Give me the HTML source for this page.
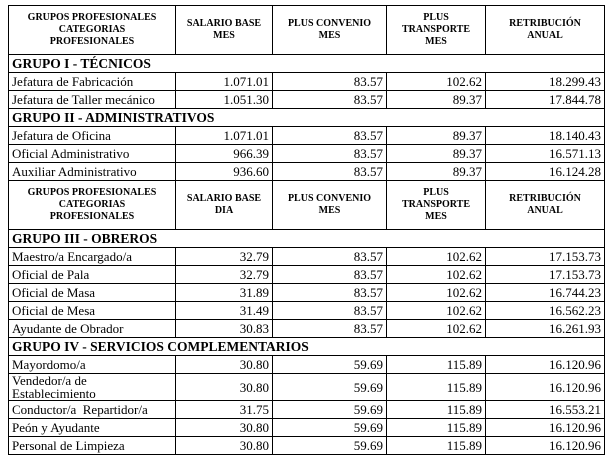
<!DOCTYPE html>
<html><head><meta charset="utf-8"><style>
html,body{margin:0;padding:0;background:#fff;width:613px;height:468px;overflow:hidden}
table{position:absolute;left:8px;top:5px;border-collapse:collapse;table-layout:fixed;font-family:"Liberation Serif",serif;font-size:13px;color:#000}
td{border:1px solid #000;padding:0 3px;height:17px;line-height:14px;overflow:hidden;white-space:nowrap}
td.n{text-align:right}
tr.h td{height:48px;font-size:10px;font-weight:bold;text-align:center;line-height:12px;white-space:normal}
tr.g td{font-weight:bold;font-size:13.5px}
tr.v td{height:26px;white-space:normal;line-height:13px}
</style></head><body>
<table>
<colgroup><col style="width:167px"><col style="width:97px"><col style="width:114px"><col style="width:99px"><col style="width:119px"></colgroup>
<tr class="h"><td>GRUPOS PROFESIONALES<br>CATEGORIAS<br>PROFESIONALES</td><td>SALARIO BASE<br>MES</td><td>PLUS CONVENIO<br>MES</td><td>PLUS<br>TRANSPORTE<br>MES</td><td>RETRIBUCIÓN<br>ANUAL</td></tr>
<tr class="g"><td colspan="5">GRUPO I - TÉCNICOS</td></tr>
<tr><td>Jefatura de Fabricación</td><td class="n">1.071.01</td><td class="n">83.57</td><td class="n">102.62</td><td class="n">18.299.43</td></tr>
<tr><td>Jefatura de Taller mecánico</td><td class="n">1.051.30</td><td class="n">83.57</td><td class="n">89.37</td><td class="n">17.844.78</td></tr>
<tr class="g"><td colspan="5">GRUPO II - ADMINISTRATIVOS</td></tr>
<tr><td>Jefatura de Oficina</td><td class="n">1.071.01</td><td class="n">83.57</td><td class="n">89.37</td><td class="n">18.140.43</td></tr>
<tr><td>Oficial Administrativo</td><td class="n">966.39</td><td class="n">83.57</td><td class="n">89.37</td><td class="n">16.571.13</td></tr>
<tr><td>Auxiliar Administrativo</td><td class="n">936.60</td><td class="n">83.57</td><td class="n">89.37</td><td class="n">16.124.28</td></tr>
<tr class="h"><td>GRUPOS PROFESIONALES<br>CATEGORIAS<br>PROFESIONALES</td><td>SALARIO BASE<br>DIA</td><td>PLUS CONVENIO<br>MES</td><td>PLUS<br>TRANSPORTE<br>MES</td><td>RETRIBUCIÓN<br>ANUAL</td></tr>
<tr class="g"><td colspan="5">GRUPO III - OBREROS</td></tr>
<tr><td>Maestro/a Encargado/a</td><td class="n">32.79</td><td class="n">83.57</td><td class="n">102.62</td><td class="n">17.153.73</td></tr>
<tr><td>Oficial de Pala</td><td class="n">32.79</td><td class="n">83.57</td><td class="n">102.62</td><td class="n">17.153.73</td></tr>
<tr><td>Oficial de Masa</td><td class="n">31.89</td><td class="n">83.57</td><td class="n">102.62</td><td class="n">16.744.23</td></tr>
<tr><td>Oficial de Mesa</td><td class="n">31.49</td><td class="n">83.57</td><td class="n">102.62</td><td class="n">16.562.23</td></tr>
<tr><td>Ayudante de Obrador</td><td class="n">30.83</td><td class="n">83.57</td><td class="n">102.62</td><td class="n">16.261.93</td></tr>
<tr class="g"><td colspan="5">GRUPO IV - SERVICIOS COMPLEMENTARIOS</td></tr>
<tr><td>Mayordomo/a</td><td class="n">30.80</td><td class="n">59.69</td><td class="n">115.89</td><td class="n">16.120.96</td></tr>
<tr class="v"><td>Vendedor/a de<br>Establecimiento</td><td class="n">30.80</td><td class="n">59.69</td><td class="n">115.89</td><td class="n">16.120.96</td></tr>
<tr><td>Conductor/a&nbsp; Repartidor/a</td><td class="n">31.75</td><td class="n">59.69</td><td class="n">115.89</td><td class="n">16.553.21</td></tr>
<tr><td>Peón y Ayudante</td><td class="n">30.80</td><td class="n">59.69</td><td class="n">115.89</td><td class="n">16.120.96</td></tr>
<tr><td>Personal de Limpieza</td><td class="n">30.80</td><td class="n">59.69</td><td class="n">115.89</td><td class="n">16.120.96</td></tr>
</table>
</body></html>
